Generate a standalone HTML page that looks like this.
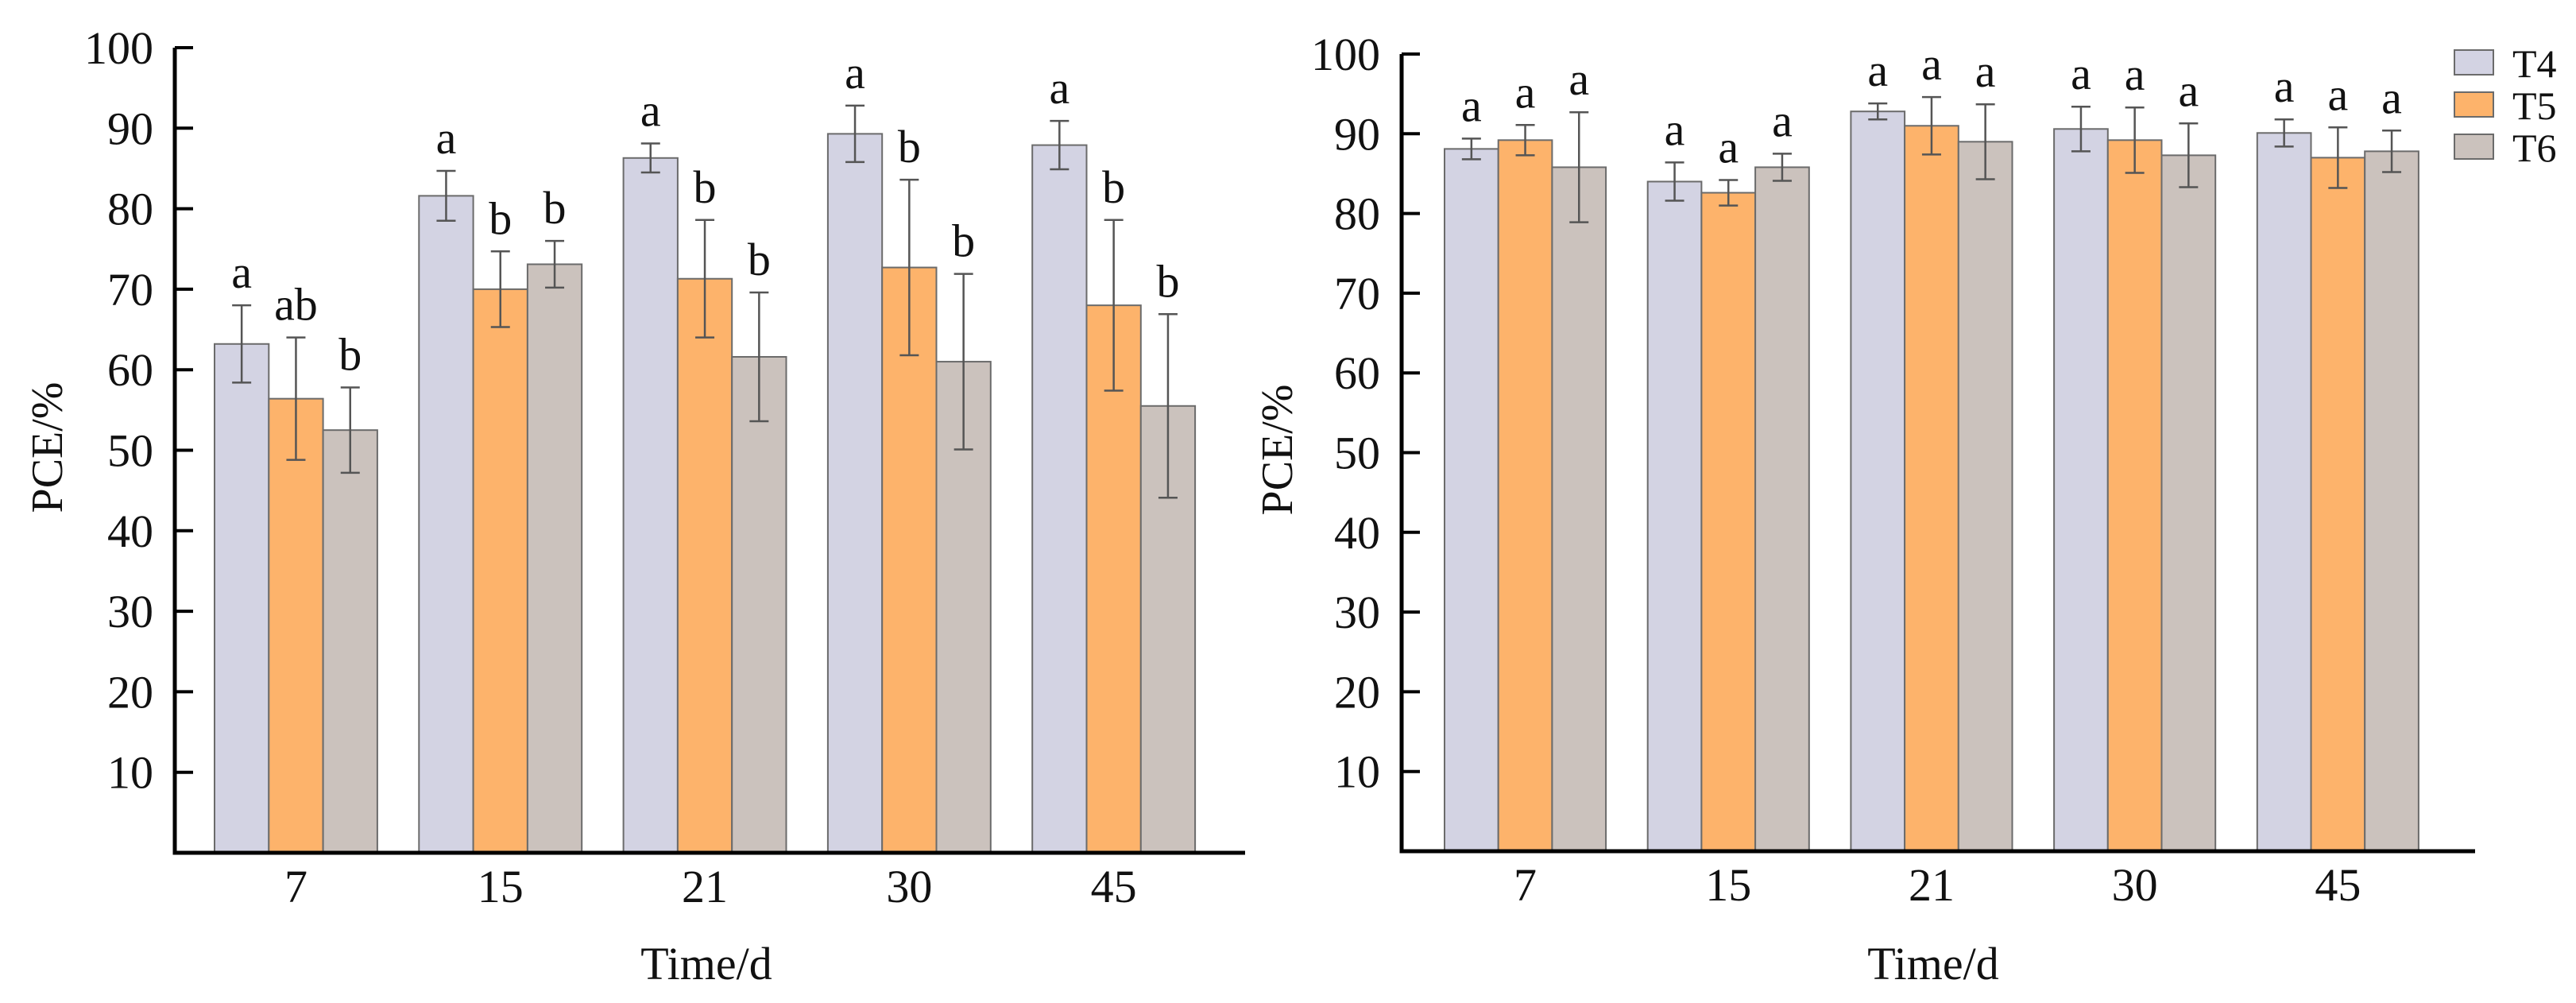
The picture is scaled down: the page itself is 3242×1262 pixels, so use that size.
<!DOCTYPE html>
<html><head><meta charset="utf-8"><style>
html,body{margin:0;padding:0;background:#fff;}
svg{display:block;font-family:"Liberation Serif",serif;}
</style></head><body>
<svg id="chart" width="3242" height="1262" viewBox="0 0 3242 1262" xmlns="http://www.w3.org/2000/svg"></svg>
<script>
const categories = ["7","15","21","30","45"];
const seriesNames = ["T4","T5","T6"];
const yTicks = [10,20,30,40,50,60,70,80,90,100];
// left panel
const leftT4 = [63.2,81.6,86.3,89.3,87.9];
const leftT5 = [56.4,70.0,71.3,72.7,68.0];
const leftT6 = [52.5,73.1,61.6,61.0,55.5];
const leftErrT4 = [4.8,3.1,1.8,3.5,3.0];
const leftErrT5 = [7.6,4.7,7.3,10.9,10.6];
const leftErrT6 = [5.3,2.9,8.0,10.9,11.4];
const leftLetT4 = ["a","a","a","a","a"];
const leftLetT5 = ["ab","b","b","b","b"];
const leftLetT6 = ["b","b","b","b","b"];
// right panel
const rightT4 = [88.1,84.0,92.8,90.6,90.1];
const rightT5 = [89.2,82.6,91.0,89.2,87.0];
const rightT6 = [85.8,85.8,89.0,87.3,87.8];
const rightErrT4 = [1.3,2.4,1.0,2.8,1.7];
const rightErrT5 = [1.9,1.6,3.6,4.1,3.8];
const rightErrT6 = [6.9,1.7,4.7,4.0,2.6];
const rightLetT4 = ["a","a","a","a","a"];
const rightLetT5 = ["a","a","a","a","a"];
const rightLetT6 = ["a","a","a","a","a"];

const colors = ["#d3d3e3","#fdb36b","#cbc2bd"];
const NS = "http://www.w3.org/2000/svg";
const svg = document.getElementById("chart");
function mk(tag, attrs, parent){
  const e = document.createElementNS(NS, tag);
  for (const k in attrs) e.setAttribute(k, attrs[k]);
  (parent||svg).appendChild(e);
  return e;
}
function panel(p){
  const g = mk("g",{});
  
  
  const yS = v => p.base - (v/100)*(p.base - p.top);
  const xS = (ci, si) => p.g0 + ci*p.gs + si*p.bw;
  const vals = [p.v4,p.v5,p.v6], errs=[p.e4,p.e5,p.e6], lets=[p.l4,p.l5,p.l6];
  for (let ci=0; ci<categories.length; ci++){
    for (let si=0; si<3; si++){
      const v = vals[si][ci], x = xS(ci,si), y = yS(v);
      const r = mk("rect",{x:x,y:y,width:p.bw,height:p.base-y,fill:colors[si],stroke:"#6b6b6b","stroke-width":2},g);
      
      
      const cx = x + p.bw/2, yt = yS(v+errs[si][ci]), yb = yS(v-errs[si][ci]);
      const eb = mk("path",{d:`M${cx},${yt}V${yb}M${cx-12},${yt}H${cx+12}M${cx-12},${yb}H${cx+12}`,stroke:"#555",fill:"none","stroke-width":2.5},g);
      
      
      const t = mk("text",{x:cx,y:yt-22,"text-anchor":"middle","font-size":58,fill:"#111"},g);
      t.textContent = lets[si][ci];
      
      
    }
    const lab = mk("text",{x:xS(ci,0)+1.5*p.bw,y:p.base+62,"text-anchor":"middle","font-size":58,fill:"#111"},g);
    lab.textContent = categories[ci];
    
    
  }
  const ax = mk("path",{d:`M${p.ax},${p.top}V${p.base}H${p.xend}`,stroke:"#000",fill:"none","stroke-width":5},g);
  
  
  for (const tv of yTicks){
    const y = yS(tv);
    const tk = mk("line",{x1:p.ax,x2:p.ax+23,y1:y,y2:y,stroke:"#000","stroke-width":4},g);
    
    
    const tl = mk("text",{x:p.ax-27,y:y+20,"text-anchor":"end","font-size":58,fill:"#111"},g);
    tl.textContent = tv;
    
    
  }
  const yt = mk("text",{x:0,y:0,"text-anchor":"middle","font-size":56,fill:"#111",transform:`translate(${p.ytx},${p.yty}) rotate(-90)`},g);
  yt.textContent = "PCE/%";
  
  
  const xt = mk("text",{x:p.xtx,y:1232,"text-anchor":"middle","font-size":58,fill:"#111"},g);
  xt.textContent = "Time/d";
  
  
}
panel({name:"left-panel",ax:220,top:60,base:1073,xend:1567,g0:270,gs:257.3,bw:68.3,
  v4:leftT4,v5:leftT5,v6:leftT6,e4:leftErrT4,e5:leftErrT5,e6:leftErrT6,l4:leftLetT4,l5:leftLetT5,l6:leftLetT6,
  ytx:78,yty:563,xtx:889});
panel({name:"right-panel",ax:1764,top:68,base:1071,xend:3115,g0:1818,gs:255.7,bw:67.7,
  v4:rightT4,v5:rightT5,v6:rightT6,e4:rightErrT4,e5:rightErrT5,e6:rightErrT6,l4:rightLetT4,l5:rightLetT5,l6:rightLetT6,
  ytx:1626,yty:566,xtx:2433});
// legend
const lg = mk("g",{});


const legY = [63,116,169];
for (let i=0;i<3;i++){
  const r = mk("rect",{x:3089,y:legY[i],width:49,height:31,fill:colors[i],stroke:"#6b6b6b","stroke-width":2},lg);
  
  
  const t = mk("text",{x:3162,y:legY[i]+34,"font-size":50,fill:"#111"},lg);
  t.textContent = seriesNames[i];
  
  
}
</script>
</body></html>
